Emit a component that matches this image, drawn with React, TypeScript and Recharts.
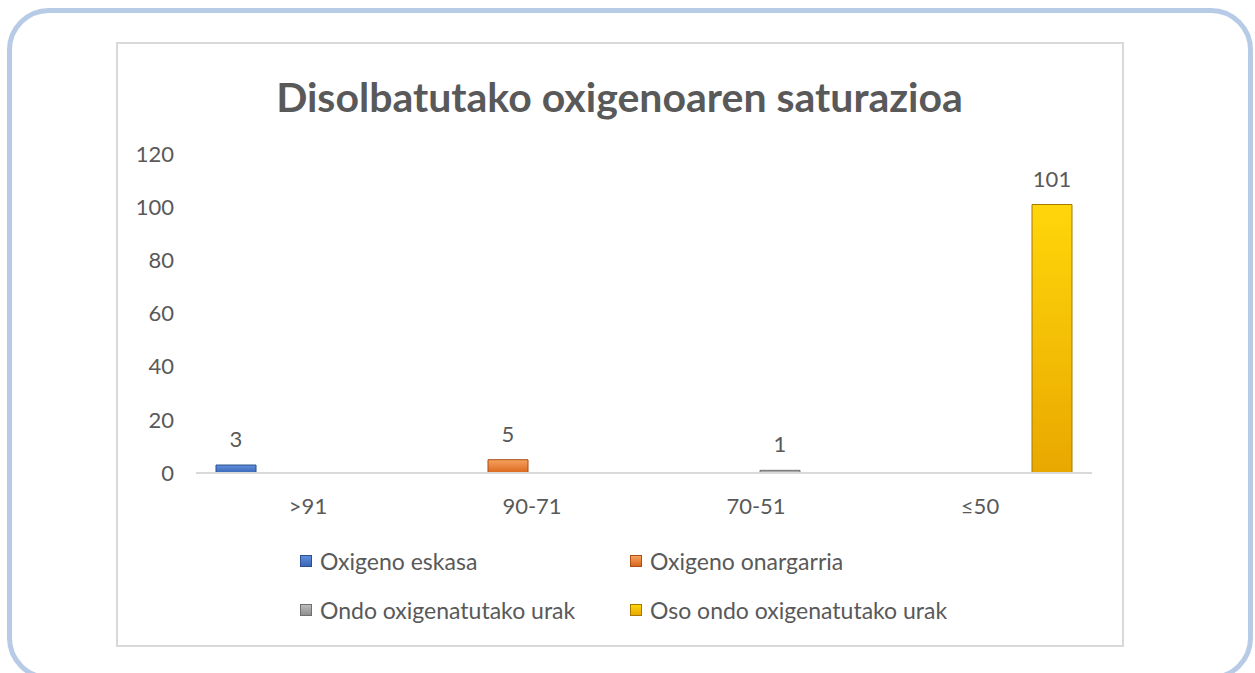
import { BarChart, Bar, XAxis, YAxis, Legend, LabelList } from 'recharts'

const categories = ['>91', '90-71', '70-51', '≤50']
const eskasa = [3, null, null, null]
const onargarria = [null, 5, null, null]
const ondo = [null, null, 1, null]
const osoOndo = [null, null, null, 101]
const yTicks = [0, 20, 40, 60, 80, 100, 120]

const series = [
  { key: 'eskasa', name: 'Oxigeno eskasa', values: eskasa, top: '#5f8fdc', bottom: '#3a67b8', edge: '#2b4f8f' },
  { key: 'onargarria', name: 'Oxigeno onargarria', values: onargarria, top: '#f7a15e', bottom: '#d9681e', edge: '#a94f14' },
  { key: 'ondo', name: 'Ondo oxigenatutako urak', values: ondo, top: '#bdbdbd', bottom: '#8f8f8f', edge: '#6f6f6f' },
  { key: 'osoOndo', name: 'Oso ondo oxigenatutako urak', values: osoOndo, top: '#ffd60a', bottom: '#e9a800', edge: '#a67800' },
]

const data = categories.map((cat, i) => {
  const row: Record<string, string | number | null> = { cat }
  series.forEach((s) => { row[s.key] = s.values[i] })
  return row
})

const TEXT = '#595959'
const FONT = 'Lato, "Open Sans", sans-serif'

function LegendGrid() {
  return (
    <div style={{ display: 'grid', gridTemplateColumns: '330px 330px', rowGap: 26, fontFamily: FONT, fontSize: 23, color: TEXT }}>
      {series.map((s) => (
        <div key={s.key} style={{ display: 'flex', alignItems: 'center', height: 23, whiteSpace: 'nowrap' }}>
          <span style={{
            display: 'inline-block', width: 10, height: 10, marginRight: 8,
            background: `linear-gradient(${s.top}, ${s.bottom})`, border: `1px solid ${s.edge}`,
          }} />
          {s.name}
        </div>
      ))}
    </div>
  )
}

export default function App() {
  return (
    <div style={{ position: 'absolute', left: 0, top: 0, width: 1255, height: 673, overflow: 'hidden', background: '#fff' }}>
      <div style={{
        position: 'absolute', left: 7, top: 8, width: 1236, height: 662,
        border: '5px solid #b7cbe6', borderRadius: 42,
      }} />
      <div style={{
        position: 'absolute', left: 116, top: 42, width: 1004, height: 601,
        border: '2px solid #d9d9d9', background: '#fff',
      }} />
      <div style={{
        position: 'absolute', left: 117, top: 71, width: 1005, textAlign: 'center',
        fontFamily: FONT, fontWeight: 700, fontSize: 41, color: TEXT, lineHeight: '52px',
      }}>
        Disolbatutako oxigenoaren saturazioa
      </div>
      <div style={{ position: 'absolute', left: 117, top: 43, fontFamily: FONT }}>
        <BarChart
          width={1005}
          height={602}
          data={data}
          margin={{ top: 111, right: 30, bottom: 132, left: 0 }}
          barCategoryGap={20}
          barGap={8}
        >
          <defs>
            {series.map((s) => (
              <linearGradient key={s.key} id={`grad-${s.key}`} x1="0" y1="0" x2="0" y2="1">
                <stop offset="0%" stopColor={s.top} />
                <stop offset="100%" stopColor={s.bottom} />
              </linearGradient>
            ))}
          </defs>
          <XAxis
            dataKey="cat"
            height={40}
            tickLine={false}
            tickSize={0}
            tickMargin={25}
            axisLine={{ stroke: '#d9d9d9', strokeWidth: 2 }}
            tick={{ fill: TEXT, fontSize: 22 }}
          />
          <YAxis
            width={79}
            domain={[0, 120]}
            ticks={yTicks}
            axisLine={false}
            tickLine={false}
            tickSize={0}
            tickMargin={22}
            tick={{ fill: TEXT, fontSize: 22 }}
          />
          <Legend
            layout="horizontal"
            verticalAlign="middle"
            align="center"
            content={() => <LegendGrid />}
            wrapperStyle={{ left: 183, top: 506, width: 700, height: 80 }}
          />
          {series.map((s) => (
            <Bar
              key={s.key}
              dataKey={s.key}
              name={s.name}
              fill={`url(#grad-${s.key})`}
              stroke={s.edge}
              strokeWidth={1}
              isAnimationActive={false}
            >
              <LabelList dataKey={s.key} position="top" offset={18} fill={TEXT} fontSize={22} />
            </Bar>
          ))}
        </BarChart>
      </div>
    </div>
  )
}
